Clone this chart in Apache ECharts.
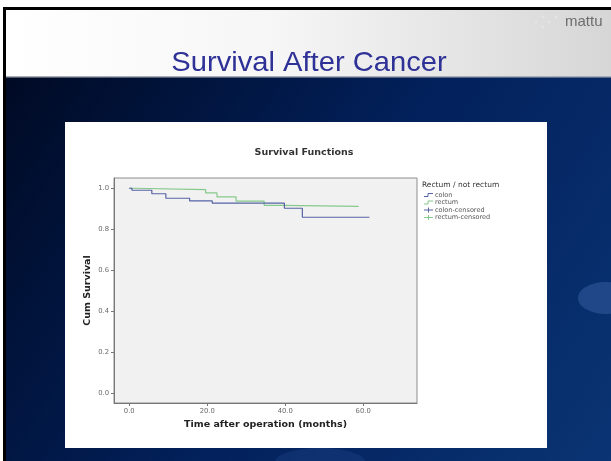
<!DOCTYPE html>
<html>
<head>
<meta charset="utf-8">
<script src="https://cdn.jsdelivr.net/npm/echarts@6/dist/echarts.min.js"></script>
<style>
html,body{margin:0;padding:0;background:#fff;}
#c{width:611px;height:461px;}
</style>
</head>
<body>
<div id="c"></div>
<script>
// ---- data ----
const timeColon   = [0, 0.7, 5.8, 9.4, 15.5, 21.3, 39.8, 44.4, 61.6];
const survColon   = [1.0, 0.990, 0.973, 0.951, 0.938, 0.927, 0.902, 0.858, 0.858];
const timeRectum  = [0, 1.0, 19.6, 22.5, 27.4, 34.6, 39.3, 58.8];
const survRectum  = [1.0, 0.993, 0.977, 0.958, 0.937, 0.916, 0.911, 0.911];
const xTicks = [0, 20, 40, 60];
const yTicks = [0, 0.2, 0.4, 0.6, 0.8, 1.0];
const legendTitle = 'Rectum / not rectum';
const legendItems = ['colon', 'rectum', 'colon-censored', 'rectum-censored'];

const BLUE = '#5563a5', GREEN = '#86c98c';
const zip = (a, b) => a.map((v, i) => [v, b[i]]);

const chart = echarts.init(document.getElementById('c'), null, {renderer: 'canvas'});
const lbl = {fontFamily: 'DejaVu Sans', fontSize: 6.8, color: '#6a6a6a'};

const legendGraphics = [];
legendGraphics.push({type: 'text', x: 422, y: 181, z: 20,
  style: {text: legendTitle, fontFamily: 'DejaVu Sans', fontSize: 7.5, fill: '#333'}});
legendItems.forEach((name, i) => {
  const y = 195 + i * 7.5;
  const col = i % 2 === 0 ? BLUE : GREEN;
  if (i < 2) {
    legendGraphics.push({type: 'polyline', z: 20,
      shape: {points: [[424, y + 1.5], [428, y + 1.5], [428, y - 1.5], [433, y - 1.5]]},
      style: {stroke: col, lineWidth: 1, fill: null}});
  } else {
    legendGraphics.push({type: 'polyline', z: 20,
      shape: {points: [[424, y], [433, y]]}, style: {stroke: col, lineWidth: 1}});
    legendGraphics.push({type: 'polyline', z: 20,
      shape: {points: [[428.5, y - 2.5], [428.5, y + 2.5]]}, style: {stroke: col, lineWidth: 1}});
  }
  legendGraphics.push({type: 'text', x: 435, y: y - 3.5, z: 20,
    style: {text: name, fontFamily: 'DejaVu Sans', fontSize: 6.5, fill: '#555'}});
});

const option = {
  animation: false,
  backgroundColor: '#ffffff',
  graphic: [
    // slide dark blue background
    {type: 'rect', z: -10, shape: {x: 3, y: 77, width: 608, height: 384},
      style: {fill: new echarts.graphic.LinearGradient(0, 0, 1, 1, [
        {offset: 0, color: '#000a24'}, {offset: 0.5, color: '#02205a'}, {offset: 1, color: '#0a3474'}])}},
    {type: 'ellipse', z: -9, shape: {cx: 606, cy: 298, rx: 28, ry: 16},
      style: {fill: 'rgba(90,130,200,0.3)'}},
    {type: 'ellipse', z: -9, shape: {cx: 320, cy: 462, rx: 45, ry: 14},
      style: {fill: 'rgba(60,100,180,0.18)'}},
    // header
    {type: 'rect', z: -10, shape: {x: 3, y: 7, width: 608, height: 70},
      style: {fill: new echarts.graphic.LinearGradient(0, 0, 1, 0, [
        {offset: 0, color: '#ffffff'}, {offset: 0.45, color: '#f6f6f6'}, {offset: 1, color: '#d6d6d6'}])}},
    {type: 'rect', z: -9, shape: {x: 3, y: 76, width: 608, height: 1.5}, style: {fill: '#a9adb8'}},
    // black frame
    {type: 'rect', z: -8, shape: {x: 3, y: 7, width: 608, height: 3}, style: {fill: '#000'}},
    {type: 'rect', z: -8, shape: {x: 3, y: 7, width: 3, height: 454}, style: {fill: '#000'}},
    // header texts
    {type: 'text', z: 5, x: 309, y: 49, scaleX: 1.06,
      style: {text: 'Survival After Cancer', fontFamily: 'Liberation Sans', fontSize: 27.5,
        fill: '#2e3196', align: 'center'}},
    {type: 'circle', z: 5, shape: {cx: 536, cy: 22, r: 1.3}, style: {fill: '#e4e4e4'}},
    {type: 'circle', z: 5, shape: {cx: 543, cy: 17, r: 1.3}, style: {fill: '#e4e4e4'}},
    {type: 'circle', z: 5, shape: {cx: 549, cy: 22, r: 1.3}, style: {fill: '#e4e4e4'}},
    {type: 'circle', z: 5, shape: {cx: 556, cy: 17, r: 1.3}, style: {fill: '#e4e4e4'}},
    {type: 'circle', z: 5, shape: {cx: 543, cy: 27, r: 1.3}, style: {fill: '#e4e4e4'}},
    {type: 'text', z: 5, x: 565, y: 14,
      style: {text: 'mattu', fontFamily: 'Liberation Sans', fontSize: 15, fill: '#6d6d6d'}},
    // white chart panel
    {type: 'rect', z: -5, shape: {x: 65, y: 122, width: 482, height: 326}, style: {fill: '#ffffff'}}
  ].concat(legendGraphics),
  title: {
    text: 'Survival Functions', left: 299, top: 143, textAlign: 'center',
    textStyle: {fontFamily: 'DejaVu Sans', fontSize: 9.5, fontWeight: 'bold', color: '#333'}
  },
  grid: {left: 114, top: 178, right: 194, bottom: 58, show: true,
    backgroundColor: '#f1f1f1', borderColor: '#8d8d8d', borderWidth: 1},
  xAxis: {
    type: 'value', min: -3.9, max: 73.8,
    name: 'Time after operation (months)', nameLocation: 'middle', nameGap: 17,
    nameTextStyle: {fontFamily: 'DejaVu Sans', fontSize: 9.5, fontWeight: 'bold', color: '#222'},
    axisLine: {show: true, onZero: false, lineStyle: {color: '#777', width: 1}},
    axisTick: {show: true, length: 3, customValues: xTicks, lineStyle: {color: '#777'}},
    axisLabel: Object.assign({customValues: xTicks, margin: 5,
      formatter: v => v.toFixed(1)}, lbl),
    splitLine: {show: false}
  },
  yAxis: {
    type: 'value', min: -0.05, max: 1.05,
    name: 'Cum Survival', nameLocation: 'middle', nameGap: 21,
    nameTextStyle: {fontFamily: 'DejaVu Sans', fontSize: 9.5, fontWeight: 'bold', color: '#222'},
    axisLine: {show: true, onZero: false, lineStyle: {color: '#777', width: 1}},
    axisTick: {show: true, length: 3, customValues: yTicks, lineStyle: {color: '#777'}},
    axisLabel: Object.assign({customValues: yTicks, margin: 5,
      formatter: v => v.toFixed(1)}, lbl),
    splitLine: {show: false}
  },
  series: [
    {name: 'rectum', type: 'line', step: 'end', showSymbol: false,
      data: zip(timeRectum, survRectum), lineStyle: {color: GREEN, width: 1.2}, z: 3},
    {name: 'colon', type: 'line', step: 'end', showSymbol: false,
      data: zip(timeColon, survColon), lineStyle: {color: BLUE, width: 1.2}, z: 4}
  ]
};
chart.setOption(option);
</script>
</body>
</html>
